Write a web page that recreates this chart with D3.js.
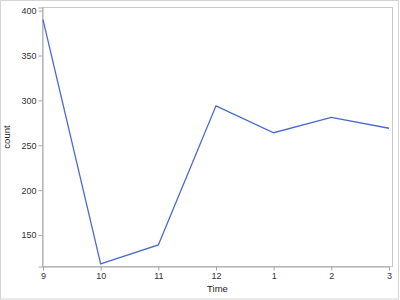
<!DOCTYPE html>
<html>
<head>
<meta charset="utf-8">
<script src="https://cdn.jsdelivr.net/npm/d3@7"></script>
<style>
  body { margin: 0; background: #fff; }
  text { font-family: "Liberation Sans", Arial, sans-serif; }
</style>
</head>
<body>
<div id="chart"></div>
<script>
var times = ["9", "10", "11", "12", "1", "2", "3"];
var counts = [390, 118, 139, 294, 264, 281, 269];
var yTicks = [150, 200, 250, 300, 350, 400];
var yRange = [115, 403.5];

var W = 400, H = 300;
var margin = {top: 7.5, right: 7.5, bottom: 33.5, left: 42.5};
var width = W - margin.left - margin.right,
    height = H - margin.top - margin.bottom;

var svg = d3.select("#chart").append("svg")
    .attr("width", W)
    .attr("height", H);

// outer border
svg.append("rect")
    .attr("x", 0.5).attr("y", 0.5)
    .attr("width", W - 2).attr("height", H - 1.5)
    .attr("fill", "none")
    .attr("stroke", "#d4d4d4");

var g = svg.append("g")
    .attr("transform", "translate(" + margin.left + "," + margin.top + ")");

var x = d3.scalePoint().domain(times).range([0.5, width - 3.5]);
var y = d3.scaleLinear().domain(yRange).range([height, 0]);

// plot frame
g.append("rect")
    .attr("width", width).attr("height", height)
    .attr("fill", "none")
    .attr("stroke", "#c8c8c8");

var xAxis = d3.axisBottom(x).tickSize(4).tickPadding(2);
var yAxis = d3.axisLeft(y).tickValues(yTicks).tickSize(4).tickPadding(2);

var gx = g.append("g")
    .attr("transform", "translate(0," + height + ")")
    .call(xAxis);
var gy = g.append("g").call(yAxis);

[gx, gy].forEach(function(a) {
    a.select(".domain").attr("stroke", "#a8a8a8");
    a.selectAll(".tick line").attr("stroke", "#a8a8a8");
    a.selectAll(".tick text")
        .attr("fill", "#333")
        .style("font-size", "9px");
});

var line = d3.line()
    .x(function(d, i) { return x(times[i]); })
    .y(function(d) { return y(d); });

g.append("path")
    .datum(counts)
    .attr("fill", "none")
    .attr("stroke", "#4a6acb")
    .attr("stroke-width", 1.3)
    .attr("d", line);

// axis labels
g.append("text")
    .attr("x", width / 2)
    .attr("y", height + 25)
    .attr("text-anchor", "middle")
    .style("font-size", "9.5px")
    .attr("fill", "#222")
    .text("Time");

g.append("text")
    .attr("transform", "translate(" + (-33) + "," + (height / 2) + ") rotate(-90)")
    .attr("text-anchor", "middle")
    .style("font-size", "9.5px")
    .attr("fill", "#222")
    .text("count");
</script>
</body>
</html>
